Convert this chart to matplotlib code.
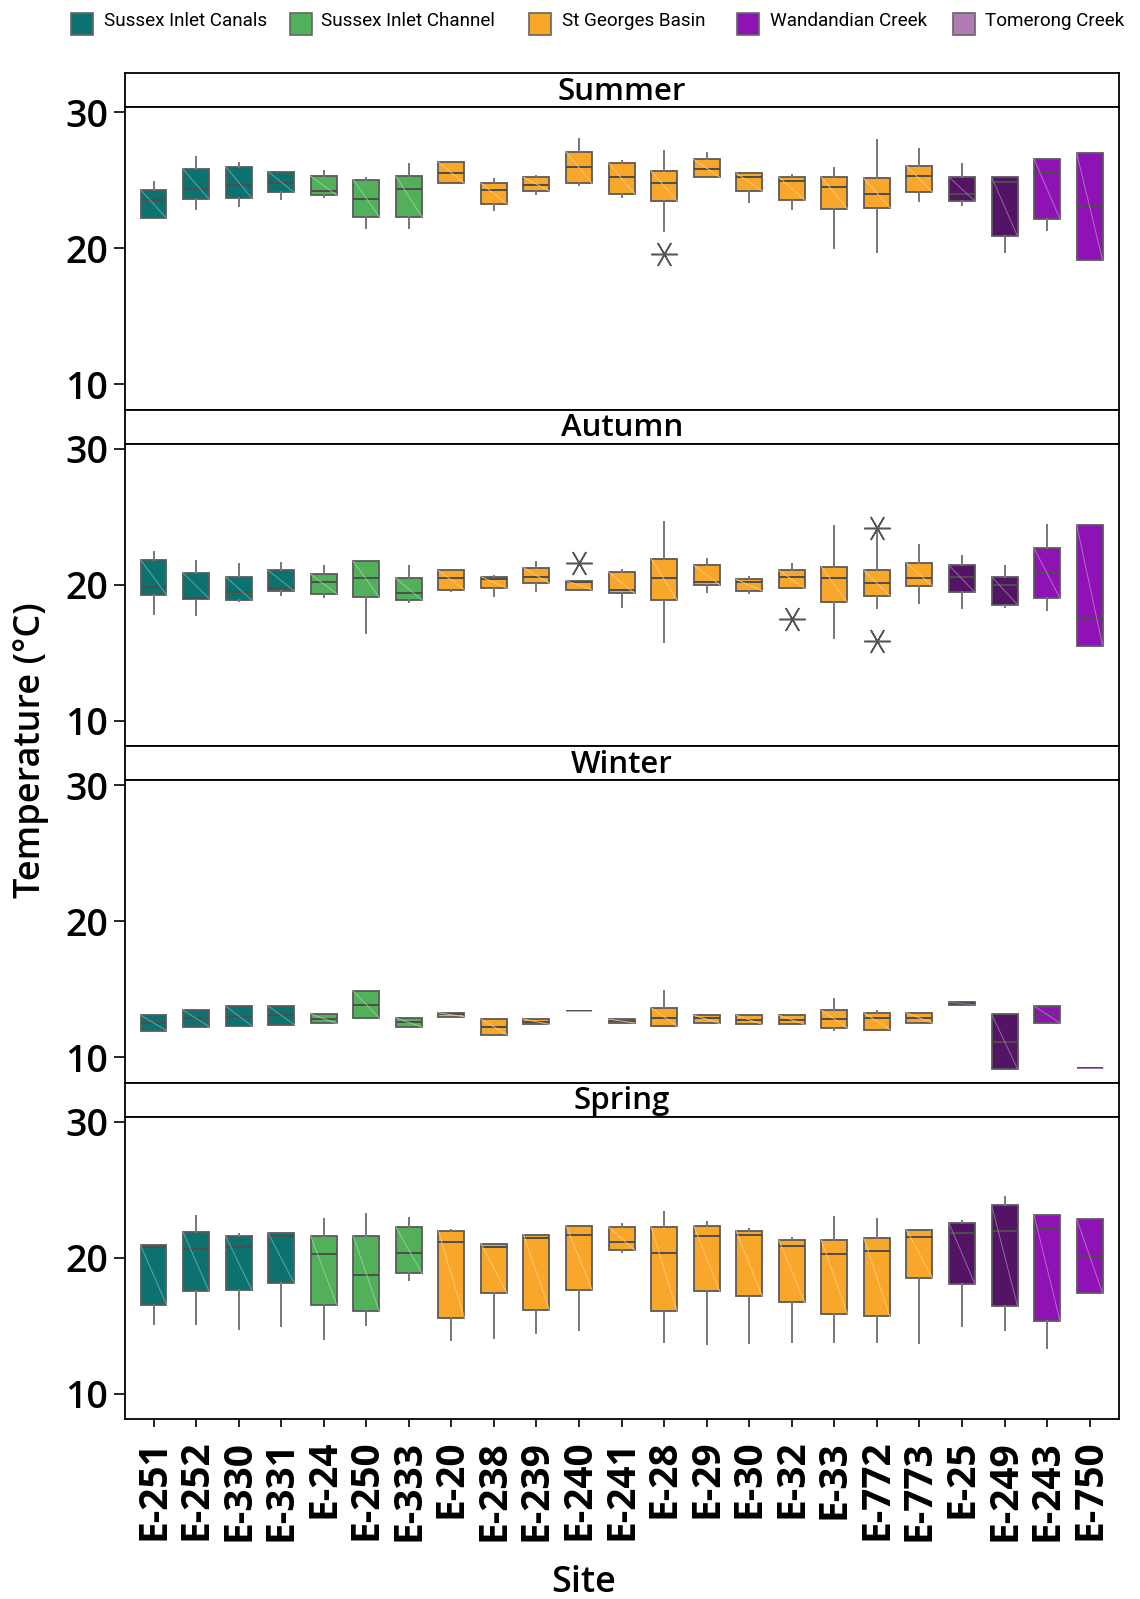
import matplotlib
matplotlib.use("Agg")
import matplotlib.pyplot as plt
from matplotlib.patches import Rectangle
from matplotlib.colors import to_rgb
import numpy as np

# sites along the x axis
sites = ["E-251", "E-252", "E-330", "E-331", "E-24", "E-250", "E-333",
         "E-20", "E-238", "E-239", "E-240", "E-241", "E-28", "E-29", "E-30",
         "E-32", "E-33", "E-772", "E-773", "E-25", "E-249", "E-243", "E-750"]
site_group = (["canals"] * 4 + ["channel"] * 3 + ["basin"] * 12
              + ["wandandian"] * 2 + ["tomerong"] * 2)

# box colours as they appear in the plot, and legend swatches
box_colors = {"canals": "#0b7270", "channel": "#52b05a", "basin": "#f9a72a",
              "wandandian": "#541466", "tomerong": "#8f13b4"}
legend_names = ["Sussex Inlet Canals", "Sussex Inlet Channel", "St Georges Basin",
                "Wandandian Creek", "Tomerong Creek"]
legend_colors = ["#0b7270", "#52b05a", "#f9a72a", "#8f13b4", "#b07ab2"]

seasons = ["Summer", "Autumn", "Winter", "Spring"]

# --- Summer (lower whisker, Q1, median, Q3, upper whisker) ---
summer_lo = [22.2, 22.9, 23.09, 23.63, 23.73, 21.47, 21.47, 24.76, 22.79, 24.0, 24.66, 23.73,
             21.23, 25.22, 23.36, 22.9, 20.0, 19.71, 23.46, 23.16, 19.71, 21.3, 19.12]
summer_q1 = [22.2, 23.6, 23.7, 24.09, 23.9, 22.31, 22.31, 24.76, 23.26, 24.19, 24.76, 24.0,
             23.46, 25.22, 24.19, 23.53, 22.9, 22.97, 24.1, 23.46, 20.88, 22.13, 19.12]
summer_med = [23.53, 24.37, 24.66, 24.76, 24.19, 23.63, 24.37, 25.51, 24.29, 24.66, 25.94, 25.2,
              24.76, 25.79, 25.22, 24.96, 24.46, 24.0, 25.32, 24.0, 24.85, 25.59, 23.07]
summer_q3 = [24.29, 25.81, 25.99, 25.62, 25.29, 25.02, 25.29, 26.32, 24.76, 25.22, 27.08, 26.25,
             25.66, 26.52, 25.51, 25.22, 25.22, 25.12, 26.06, 25.22, 25.22, 26.54, 26.99]
summer_hi = [24.83, 26.69, 26.23, 25.62, 25.66, 25.17, 26.16, 26.32, 25.1, 25.3, 28.01, 26.4,
             27.16, 26.99, 25.51, 25.4, 25.86, 27.92, 27.26, 26.15, 25.22, 26.54, 26.99]
summer_out = {"E-28": [19.59]}

# --- Autumn ---
autumn_lo = [17.87, 17.79, 18.77, 19.26, 19.07, 16.47, 18.73, 19.56, 19.19, 19.56, 19.63, 18.33,
             15.81, 19.43, 19.39, 19.73, 16.08, 18.26, 18.63, 18.26, 18.38, 18.16, 15.51]
autumn_q1 = [19.26, 18.98, 18.87, 19.54, 19.34, 19.07, 18.87, 19.63, 19.73, 20.1, 19.63, 19.36,
             18.87, 20.0, 19.54, 19.73, 18.7, 19.17, 19.9, 19.43, 18.53, 18.99, 15.51]
autumn_med = [19.85, 19.05, 19.46, 19.73, 20.2, 20.51, 19.36, 20.51, 20.39, 20.59, 20.2, 19.63,
              20.51, 20.2, 20.22, 20.59, 20.51, 20.1, 20.51, 20.59, 20.0, 20.86, 17.45]
autumn_q3 = [21.82, 20.86, 20.59, 21.05, 20.76, 21.71, 20.49, 21.05, 20.59, 21.25, 20.29, 20.93,
             21.89, 21.42, 20.39, 21.05, 21.32, 21.05, 21.6, 21.42, 20.59, 22.67, 24.41]
autumn_hi = [22.4, 21.76, 21.49, 21.6, 21.4, 21.71, 21.4, 21.05, 20.64, 21.67, 20.29, 21.08,
             24.58, 21.89, 20.54, 21.49, 24.29, 23.9, 22.89, 22.13, 21.4, 24.39, 24.41]
autumn_out = {"E-240": [21.62], "E-32": [17.48], "E-772": [24.14, 15.88]}

# --- Winter ---
winter_lo = [11.96, 12.25, 12.32, 12.4, 12.49, 12.89, 12.23, 12.98, 11.66, 12.42, 13.42, 12.52,
             12.3, 12.49, 12.42, 12.42, 12.0, 12.03, 12.52, 13.84, 9.15, 12.52, 9.25]
winter_q1 = [11.96, 12.25, 12.32, 12.4, 12.49, 12.89, 12.23, 12.98, 11.66, 12.42, 13.42, 12.52,
             12.3, 12.49, 12.42, 12.42, 12.15, 12.03, 12.52, 13.84, 9.15, 12.52, 9.25]
winter_med = [12.52, 12.89, 12.98, 13.08, 12.84, 13.84, 12.56, 13.18, 12.25, 12.59, 13.42, 12.69,
              12.89, 12.86, 12.71, 12.71, 12.81, 12.89, 12.89, 13.96, 11.13, 13.1, 9.25]
winter_q3 = [13.1, 13.47, 13.77, 13.77, 13.18, 14.86, 12.89, 13.27, 12.81, 12.81, 13.42, 12.81,
             13.64, 13.1, 13.1, 13.1, 13.47, 13.27, 13.27, 14.06, 13.18, 13.77, 9.25]
winter_hi = [13.1, 13.47, 13.77, 13.77, 13.18, 14.86, 12.89, 13.27, 12.81, 12.81, 13.42, 12.81,
             14.86, 13.1, 13.1, 13.1, 14.28, 13.42, 13.27, 14.06, 13.18, 13.77, 9.25]
winter_out = {}

# --- Spring ---
spring_lo = [15.15, 15.15, 14.75, 14.95, 14.01, 15.04, 18.33, 13.92, 14.12, 14.49, 14.68, 20.39,
             13.82, 13.65, 13.75, 13.82, 13.82, 13.82, 13.72, 14.95, 14.68, 13.35, 17.4]
spring_q1 = [16.54, 17.54, 17.65, 18.13, 16.54, 16.05, 18.87, 15.59, 17.4, 16.15, 17.65, 20.56,
             16.07, 17.54, 17.18, 16.71, 15.88, 15.68, 18.5, 18.06, 16.44, 15.34, 17.4]
spring_med = [20.81, 20.66, 20.76, 21.59, 20.29, 18.7, 20.37, 21.13, 20.76, 21.44, 21.69, 21.13,
              20.37, 21.59, 21.66, 20.83, 20.26, 20.46, 21.51, 21.79, 21.99, 22.08, 20.1]
spring_q3 = [20.93, 21.88, 21.59, 21.8, 21.59, 21.59, 22.25, 21.96, 21.03, 21.69, 22.35, 22.25,
             22.25, 22.35, 21.96, 21.29, 21.29, 21.42, 22.06, 22.54, 23.87, 23.1, 22.84]
spring_hi = [20.93, 23.09, 21.74, 21.84, 22.82, 23.18, 22.89, 22.06, 21.03, 21.69, 22.35, 22.5,
             23.35, 22.6, 22.13, 21.47, 22.99, 22.82, 22.06, 22.69, 24.49, 23.13, 22.84]
spring_out = {}

season_data = {
    "Summer": (summer_lo, summer_q1, summer_med, summer_q3, summer_hi, summer_out),
    "Autumn": (autumn_lo, autumn_q1, autumn_med, autumn_q3, autumn_hi, autumn_out),
    "Winter": (winter_lo, winter_q1, winter_med, winter_q3, winter_hi, winter_out),
    "Spring": (spring_lo, spring_q1, spring_med, spring_q3, spring_hi, spring_out),
}

FONT = ["Open Sans", "DejaVu Sans"]
W, H = 1140, 1599
fig = plt.figure(figsize=(W / 100, H / 100), dpi=100)

left_px, right_px = 125, 1119
top_px, panel_px, strip_px = 73, 336.5, 34
box_w = 0.61


def fx(px):
    return px / W


def fy(px):
    return 1 - px / H


def make_stats(lo, q1, med, q3, hi, out):
    stats = []
    for i, s in enumerate(sites):
        stats.append(dict(whislo=lo[i], q1=q1[i], med=med[i], q3=q3[i],
                          whishi=hi[i], fliers=out.get(s, [])))
    return stats


for k, season in enumerate(seasons):
    p_top = top_px + k * panel_px
    s_bot = p_top + strip_px
    p_bot = p_top + panel_px

    # strip with season name
    sax = fig.add_axes([fx(left_px), fy(s_bot), fx(right_px - left_px), strip_px / H])
    sax.set_xticks([])
    sax.set_yticks([])
    for sp in sax.spines.values():
        sp.set_linewidth(1.3)
    sax.text(0.5, 0.45, season, transform=sax.transAxes, ha="center", va="center",
             fontsize=22.5, family=FONT, fontweight="semibold")

    ax = fig.add_axes([fx(left_px), fy(p_bot), fx(right_px - left_px), (p_bot - s_bot) / H])
    lo, q1, med, q3, hi, out = season_data[season]
    stats = make_stats(lo, q1, med, q3, hi, out)
    res = ax.bxp(stats, positions=range(len(sites)), widths=box_w, patch_artist=True,
                 showcaps=False,
                 boxprops=dict(edgecolor="#5a5a5a", linewidth=1.3),
                 medianprops=dict(color="#4d4d4d", linewidth=1.4),
                 whiskerprops=dict(color="#777777", linewidth=1.4),
                 flierprops=dict(marker=(6, 2, 90), markersize=19, color="#555555",
                                 markeredgecolor="#555555", markeredgewidth=1.1,
                                 linestyle="none"))
    for i, patch in enumerate(res["boxes"]):
        c = box_colors[site_group[i]]
        patch.set_facecolor(c)
        # faint diagonal seen inside each box
        light = 0.55 * np.array(to_rgb(c)) + 0.45
        ax.plot([i - box_w / 2, i + box_w / 2], [q3[i], q1[i]], color=light,
                linewidth=0.7, alpha=0.8, zorder=patch.get_zorder() + 0.1)

    ax.set_xlim(-0.67, len(sites) - 1 + 0.69)
    ax.set_ylim(8.15, 30.37)
    ax.set_yticks([10, 20, 30])
    ax.tick_params(axis="y", direction="out", length=8, width=1.2, pad=4, labelsize=27)
    for lab in ax.get_yticklabels():
        lab.set_family(FONT)
        lab.set_fontweight("semibold")
    for sp in ax.spines.values():
        sp.set_linewidth(1.3)

    if k == len(seasons) - 1:
        ax.set_xticks(range(len(sites)))
        ax.set_xticklabels(sites, rotation=90, fontsize=28, family=FONT, fontweight="bold")
        ax.tick_params(axis="x", direction="out", length=6, width=1.2, pad=9)
    else:
        ax.set_xticks([])

fig.text(fx(31), fy(750), "Temperature (°C)", rotation=90, ha="center", va="center",
         fontsize=26, family=FONT, fontweight="semibold")
fig.text(fx(584), fy(1583), "Site", ha="center", va="center",
         fontsize=26, family=FONT, fontweight="semibold")

# legend across the top
legend_patch_x = [71, 290, 529, 737, 953]
legend_text_x = [104, 321, 562, 770, 985]
for name, col, px, tx in zip(legend_names, legend_colors, legend_patch_x, legend_text_x):
    fig.patches.append(Rectangle((fx(px), fy(35)), 22 / W, 22 / H, transform=fig.transFigure,
                                 facecolor=col, edgecolor="#666666", linewidth=1.2))
    fig.text(fx(tx), fy(21), name, ha="left", va="center", fontsize=13.6,
             family=["Roboto", "DejaVu Sans"])

fig.savefig("out.png", dpi=100)
